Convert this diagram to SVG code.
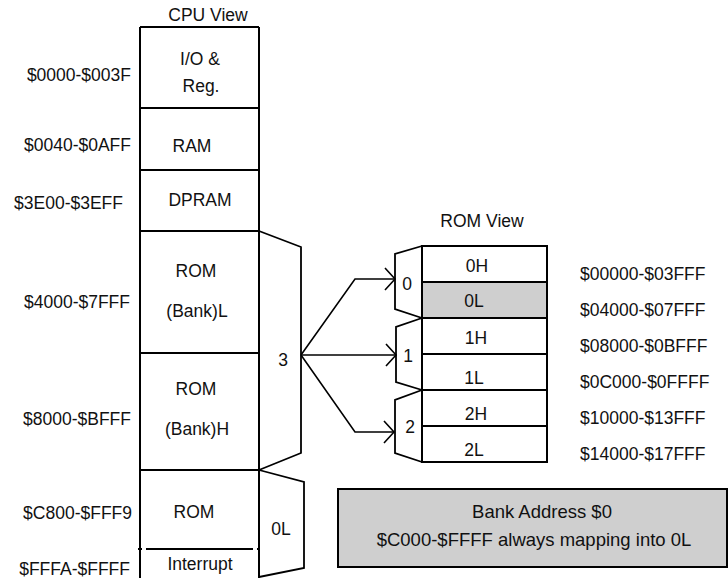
<svg xmlns="http://www.w3.org/2000/svg" width="728" height="578" viewBox="0 0 728 578">
  <defs>
    <style>
      text { font-family: "Liberation Sans", Arial, sans-serif; font-size: 17.5px; fill: #111; }
      .c { text-anchor: middle; }
      .e { text-anchor: end; }
      .box { fill: #fff; stroke: #000; stroke-width: 2; }
      .ln { fill: none; stroke: #000; stroke-width: 2; }
      .br { fill: none; stroke: #000; stroke-width: 1.8; stroke-linejoin: miter; }
      .gray { fill: #cfcfcf; stroke: #000; stroke-width: 2; }
      .conn { fill: none; stroke: #000; stroke-width: 1.6; }
      .big { font-size: 18.5px; }
    </style>
    <marker id="arr" markerUnits="userSpaceOnUse" markerWidth="14" markerHeight="26" refX="11" refY="12" orient="auto">
      <path d="M1,1 L11,12 L1,23" fill="none" stroke="#000" stroke-width="1.6"/>
    </marker>
  </defs>
  <rect width="728" height="578" fill="#fff"/>

  <g id="cpu-view">
    <text class="c" x="208" y="21">CPU View</text>
    <path class="ln" d="M140,27 H259 M140,108 H259 M140,170 H259 M140,231 H259 M140,353 H259 M140,470 H259 M140,27 V578 M259,27 V578"/>
    <line x1="138" y1="549" x2="260" y2="549" stroke="#000" stroke-width="2" stroke-dasharray="4,4,107,4,4"/>
    <text class="c" x="200" y="65">I/O &amp;</text>
    <text class="c" x="201" y="92">Reg.</text>
    <text class="c" x="192" y="152">RAM</text>
    <text class="c" x="200" y="206">DPRAM</text>
    <text class="c" x="196" y="277">ROM</text>
    <text class="c" x="197" y="317">(Bank)L</text>
    <text class="c" x="196" y="395">ROM</text>
    <text class="c" x="197" y="435">(Bank)H</text>
    <text class="c" x="194" y="518">ROM</text>
    <text class="c" x="200" y="570">Interrupt</text>
    <text class="e" x="131" y="81">$0000-$003F</text>
    <text class="e" x="131" y="151">$0040-$0AFF</text>
    <text class="e" x="123" y="209">$3E00-$3EFF</text>
    <text class="e" x="130" y="308">$4000-$7FFF</text>
    <text class="e" x="131" y="425">$8000-$BFFF</text>
    <text class="e" x="132" y="519">$C800-$FFF9</text>
    <text class="e" x="130" y="575">$FFFA-$FFFF</text>
  </g>

  <g id="bank-bracket">
    <path class="br" d="M259,231 L301,247 V453 L259,470"/>
    <text class="c" x="283" y="366">3</text>
  </g>

  <g id="fixed-bracket">
    <path class="br" d="M259,470 L304,482 V568 L259,577"/>
    <text class="c" x="281" y="535">0L</text>
  </g>

  <g id="rom-view">
    <text class="c" x="482" y="227">ROM View</text>
    <rect class="box" x="422" y="246" width="125" height="216"/>
    <rect class="gray" x="422" y="282" width="125" height="36"/>
    <path class="ln" d="M422,354 H547 M422,390 H547 M422,426 H547"/>
    <text class="c" x="477" y="272">0H</text>
    <text class="c" x="474" y="307">0L</text>
    <text class="c" x="476" y="344">1H</text>
    <text class="c" x="474" y="384">1L</text>
    <text class="c" x="476" y="420">2H</text>
    <text class="c" x="474" y="456">2L</text>
    <text x="580" y="280">$00000-$03FFF</text>
    <text x="580" y="316">$04000-$07FFF</text>
    <text x="580" y="352">$08000-$0BFFF</text>
    <text x="580" y="388">$0C000-$0FFFF</text>
    <text x="580" y="424">$10000-$13FFF</text>
    <text x="580" y="460">$14000-$17FFF</text>
  </g>

  <g id="bank-0">
    <path class="br" d="M422,246 L395,254 V309 L422,318"/>
    <text class="c" x="407" y="290">0</text>
  </g>
  <g id="bank-1">
    <path class="br" d="M422,318 L396,327 V382 L422,390"/>
    <text class="c" x="408" y="362">1</text>
  </g>
  <g id="bank-2">
    <path class="br" d="M422,390 L395,400 V453 L422,462"/>
    <text class="c" x="410" y="433">2</text>
  </g>

  <g id="note">
    <rect class="gray" x="338" y="489" width="389" height="78"/>
    <text class="c big" x="542" y="518">Bank Address $0</text>
    <text class="c big" x="534" y="546">$C000-$FFFF always mapping into 0L</text>
  </g>

  <g id="connectors">
    <path class="conn" d="M301,355 L355,279 H395" marker-end="url(#arr)"/>
    <path class="conn" d="M301,355 H396" marker-end="url(#arr)"/>
    <path class="conn" d="M301,355 L355,432 H394" marker-end="url(#arr)"/>
  </g>
</svg>
